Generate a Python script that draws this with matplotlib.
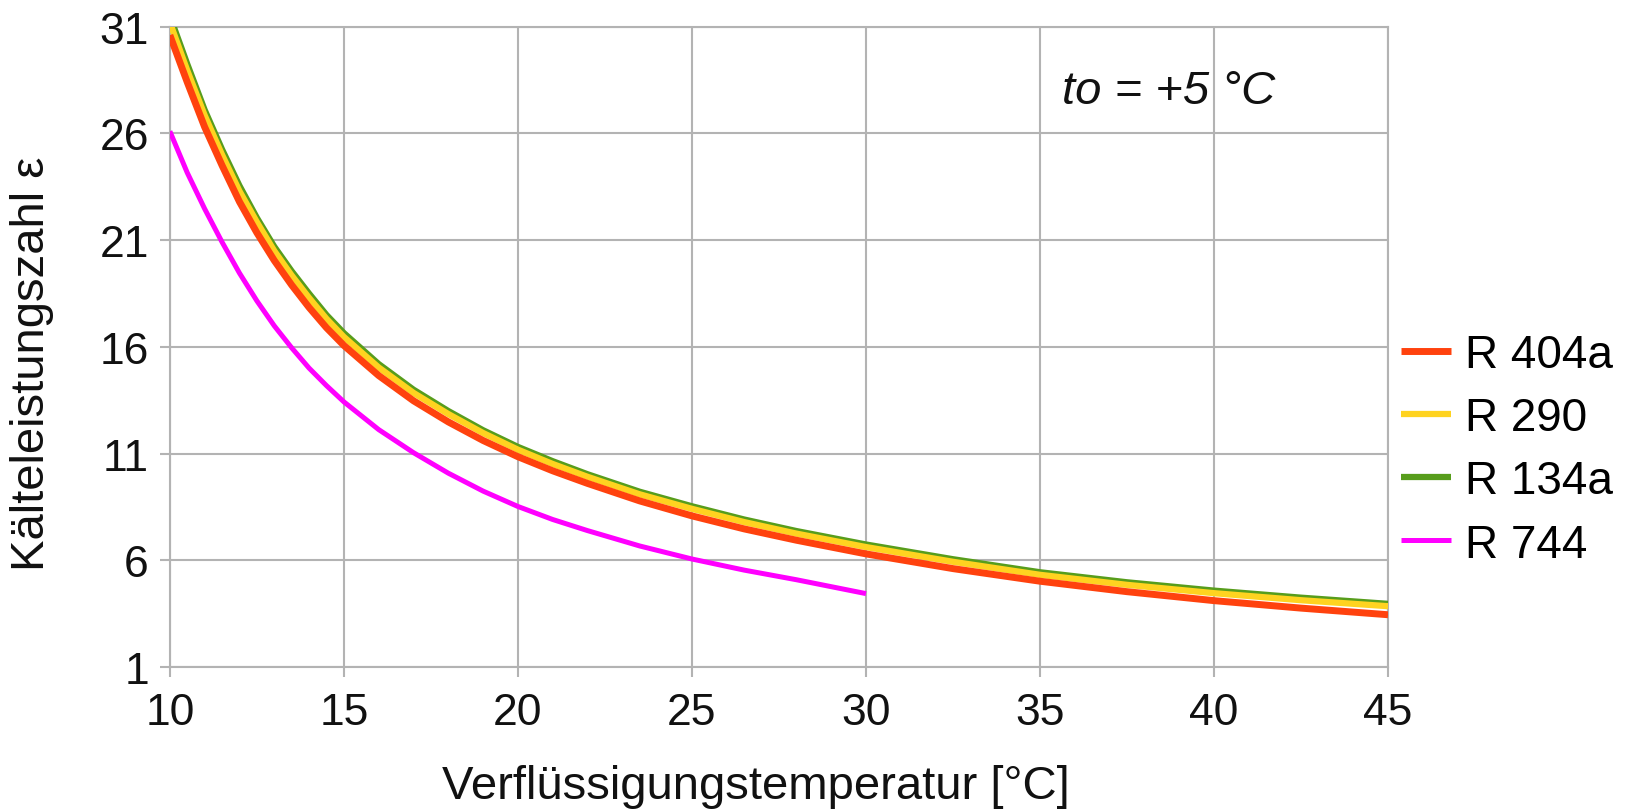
"""
Kälteleistungszahl über Verflüssigungstemperatur (to = +5 °C)
für vier Kältemittel.
"""
import matplotlib
matplotlib.use("Agg")
import matplotlib.pyplot as plt

plt.rcParams["font.family"] = ["Liberation Sans", "DejaVu Sans"]

# Verflüssigungstemperatur [°C] (Stützstellen)
temp = [10, 10.5, 11, 11.5, 12, 12.5, 13, 13.5, 14, 14.5, 15, 16, 17, 18,
        19, 20, 21, 22, 23.5, 25, 26.5, 28, 30, 32.5, 35, 37.5, 40, 42.5, 45]

r404a = [30.6, 28.4, 26.3, 24.5, 22.8, 21.35, 20.05, 18.9, 17.85, 16.9,
         16.07, 14.66, 13.48, 12.49, 11.62, 10.86, 10.2, 9.61, 8.79, 8.09,
         7.48, 6.95, 6.31, 5.62, 5.03, 4.54, 4.12, 3.77, 3.46]
r290 = [31.2, 28.95, 26.85, 25.0, 23.3, 21.85, 20.5, 19.35, 18.3, 17.32,
        16.47, 15.04, 13.85, 12.86, 11.97, 11.19, 10.52, 9.92, 9.1, 8.42,
        7.8, 7.26, 6.63, 5.94, 5.33, 4.86, 4.47, 4.14, 3.86]
r134a = [31.5, 29.25, 27.1, 25.25, 23.55, 22.05, 20.7, 19.55, 18.5, 17.5,
         16.65, 15.2, 14.0, 13.0, 12.1, 11.32, 10.65, 10.04, 9.22, 8.54,
         7.92, 7.38, 6.75, 6.06, 5.45, 4.98, 4.59, 4.26, 3.97]

temp_744 = [10, 10.5, 11, 11.5, 12, 12.5, 13, 13.5, 14, 14.5, 15, 16, 17,
            18, 19, 20, 21, 22, 23.5, 25, 26.5, 28, 30]
r744 = [26.1, 24.16, 22.47, 20.91, 19.46, 18.16, 16.99, 15.96, 15.01, 14.19,
        13.43, 12.13, 11.05, 10.09, 9.25, 8.53, 7.92, 7.4, 6.68, 6.07,
        5.55, 5.1, 4.45]

x_ticks = [10, 15, 20, 25, 30, 35, 40, 45]
y_ticks = [1, 6, 11, 16, 21, 26, 31]

GRID = "#b3b3b3"
TEXT = "#111111"

fig = plt.figure(figsize=(16.33, 8.12), dpi=100)
ax = fig.add_axes([0.104, 0.177, 0.746, 0.789])

# Reihenfolge so, dass Grün hinter Gelb und Rot oben liegt
ax.plot(temp, r134a, color="#579d1c", lw=4.5, label="R 134a", zorder=3,
        solid_capstyle="butt")
ax.plot(temp, r290, color="#ffd320", lw=4.5, label="R 290", zorder=4,
        solid_capstyle="butt")
ax.plot(temp, r404a, color="#ff420e", lw=5.0, label="R 404a", zorder=5,
        solid_capstyle="butt")
ax.plot(temp_744, r744, color="#ff00ff", lw=3.6, label="R 744", zorder=6,
        solid_capstyle="butt")

ax.set_xlim(10, 45)
ax.set_ylim(1, 31)
ax.set_xticks(x_ticks)
ax.set_yticks(y_ticks)
ax.grid(True, color=GRID, lw=1.5)
ax.set_axisbelow(True)
for sp in ax.spines.values():
    sp.set_color(GRID)
    sp.set_linewidth(1.5)
ax.tick_params(axis="both", colors=GRID, labelcolor=TEXT,
               labelsize=32, length=7, width=1.5)
ax.tick_params(axis="x", pad=11)
ax.tick_params(axis="y", pad=8)

ax.set_xlabel("Verflüssigungstemperatur [°C]", fontsize=34, color=TEXT,
              va="center")
ax.xaxis.set_label_coords(0.481, -0.186)
ax.set_ylabel("Kälteleistungszahl ε", fontsize=34, color=TEXT,
              va="center")
ax.yaxis.set_label_coords(-0.113, 0.475)

ax.text(38.7, 28.0, "to = +5 °C", fontsize=34, style="italic",
        color=TEXT, ha="center", va="center")

# Legende in der Reihenfolge des Originals
handles, labels = ax.get_legend_handles_labels()
order = [2, 1, 0, 3]
fig.legend([handles[i] for i in order], [labels[i] for i in order],
           loc="center left", bbox_to_anchor=(0.8465, 0.445), frameon=False,
           fontsize=33, handlelength=1.1, handletextpad=0.3,
           labelspacing=0.42, borderaxespad=0)

fig.savefig("out.png", dpi=100)
